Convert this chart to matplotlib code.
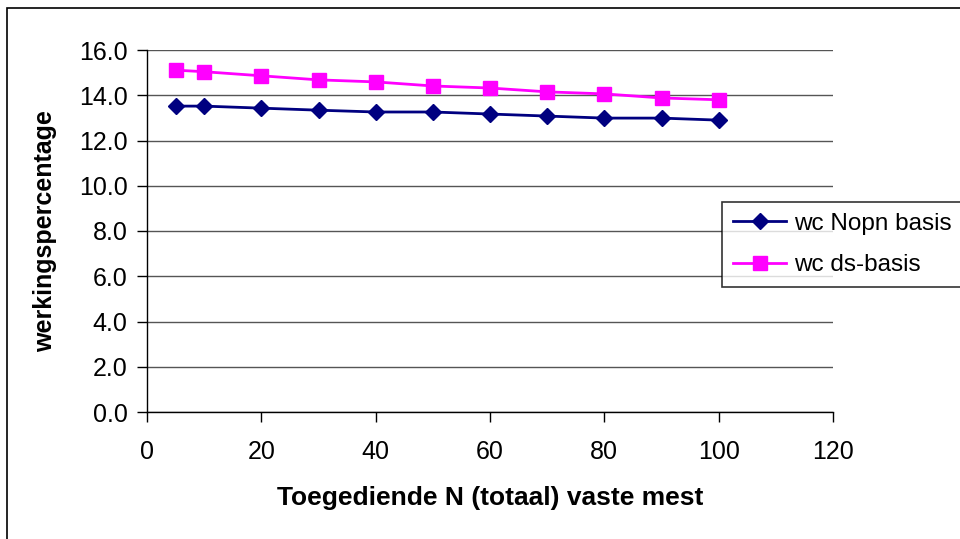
import matplotlib.pyplot as plt
from matplotlib.patches import Rectangle

plt.rcParams['font.family'] = ['Liberation Sans', 'DejaVu Sans']

n_toegediend = [5, 10, 20, 30, 40, 50, 60, 70, 80, 90, 100]
wc_nopn = [13.52, 13.52, 13.43, 13.34, 13.26, 13.26, 13.17, 13.08, 12.99, 12.99, 12.90]
wc_ds = [15.11, 15.04, 14.86, 14.68, 14.59, 14.41, 14.32, 14.15, 14.06, 13.88, 13.80]

y_ticks = [0, 2, 4, 6, 8, 10, 12, 14, 16]
x_ticks = [0, 20, 40, 60, 80, 100, 120]

fig = plt.figure(figsize=(9.6, 5.39), dpi=100)
fig.patches.append(Rectangle((7 / 960, -0.1), 1.2, 1 - 8 / 539 + 0.1, transform=fig.transFigure,
                             fill=False, edgecolor='black', linewidth=1.2))

ax = fig.add_axes([147 / 960, 1 - 412 / 539, (833 - 147) / 960, (412 - 50) / 539])
ax.plot(n_toegediend, wc_nopn, color='#000080', marker='D', markersize=8, linewidth=2,
        label='wc Nopn basis')
ax.plot(n_toegediend, wc_ds, color='#FF00FF', marker='s', markersize=10, linewidth=2,
        label='wc ds-basis')

ax.set_xlim(0, 120)
ax.set_ylim(0, 16)
ax.set_xticks(x_ticks)
ax.set_yticks(y_ticks)
ax.set_yticklabels(['%.1f' % v for v in y_ticks])
ax.tick_params(labelsize=18, length=7, width=1, color='black')
ax.tick_params(axis='x', pad=13)
ax.tick_params(axis='y', pad=7)
ax.grid(axis='y', color='#555555', linewidth=1)
ax.set_axisbelow(True)
for side in ['top', 'right']:
    ax.spines[side].set_visible(False)
for side in ['left', 'bottom']:
    ax.spines[side].set_linewidth(1)

ax.set_xlabel('Toegediende N (totaal) vaste mest', fontsize=19, fontweight='bold', labelpad=16)
ax.set_ylabel('werkingspercentage', fontsize=18, fontweight='bold', labelpad=16)

leg = fig.legend(loc='upper left', bbox_to_anchor=(722 / 960, 1 - 202 / 539), fontsize=17.5,
                 frameon=True, fancybox=False, edgecolor='black', handlelength=2.2,
                 borderpad=0.45, labelspacing=0.8, handletextpad=0.3, borderaxespad=0)
leg.get_frame().set_linewidth(1.2)

fig.savefig('out.png', dpi=100)
